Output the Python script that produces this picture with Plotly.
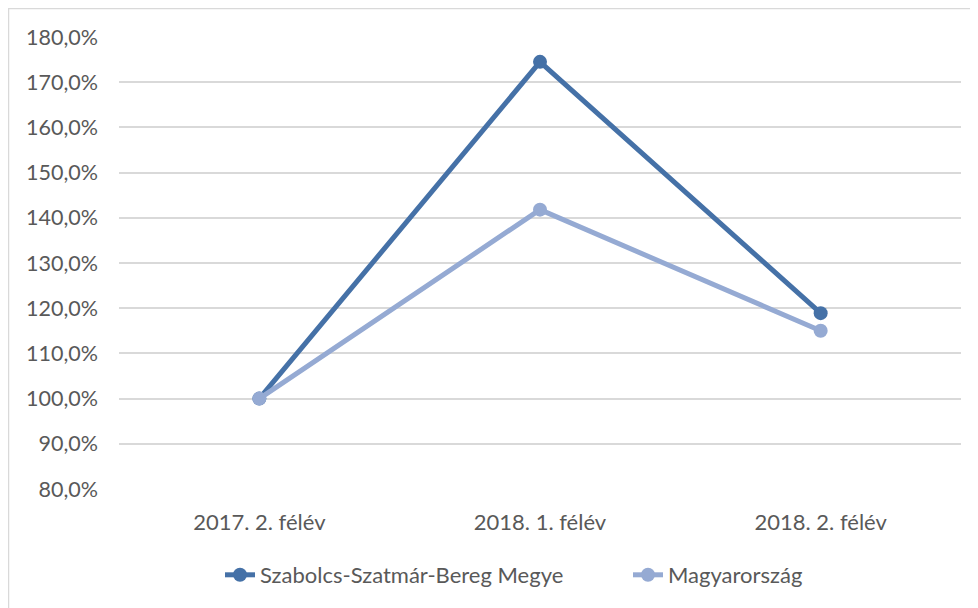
import plotly.graph_objects as go

categories = ["2017. 2. félév", "2018. 1. félév", "2018. 2. félév"]
szabolcs = [100.0, 174.5, 118.9]
magyarorszag = [100.0, 141.8, 115.0]
y_ticks = [80, 90, 100, 110, 120, 130, 140, 150, 160, 170, 180]
y_tick_labels = ["80,0%", "90,0%", "100,0%", "110,0%", "120,0%", "130,0%",
                 "140,0%", "150,0%", "160,0%", "170,0%", "180,0%"]

W, H = 970, 600
L, R, T, B = 111, 17, 29, 119
pw, ph = W - L - R, H - T - B
OFF = 8  # page offset of the figure

fig = go.Figure()
fig.add_trace(go.Scatter(x=categories, y=szabolcs, name="Szabolcs-Szatmár-Bereg Megye",
                         mode="lines+markers", legend="legend",
                         line=dict(color="#4571A7", width=5),
                         marker=dict(size=14, color="#4571A7")))
fig.add_trace(go.Scatter(x=categories, y=magyarorszag, name="Magyarország",
                         mode="lines+markers", legend="legend2",
                         line=dict(color="#95AAD3", width=5),
                         marker=dict(size=14, color="#95AAD3")))

leg_y = -(575 - OFF - T - ph) / ph
leg_common = dict(orientation="h", xanchor="left", y=leg_y, yanchor="middle",
                  font=dict(size=22, color="#595959"), bgcolor="rgba(0,0,0,0)")

fig.update_layout(
    width=W, height=H,
    margin=dict(l=L, r=R, t=T, b=B),
    paper_bgcolor="white", plot_bgcolor="white",
    font=dict(family="Lato, Calibri, sans-serif", size=22, color="#595959"),
    showlegend=True,
    legend=dict(x=(220 - OFF - L) / pw, **leg_common),
    legend2=dict(x=(628 - OFF - L) / pw, **leg_common),
    xaxis=dict(type="category", range=[-0.5, 2.5], showgrid=False, showline=False,
               zeroline=False, ticks="", ticklabelstandoff=18,
               tickfont=dict(size=22)),
    yaxis=dict(range=[80, 180], tickvals=y_ticks, ticktext=y_tick_labels,
               showgrid=True, gridcolor="#D9D9D9", gridwidth=1.5, zeroline=False,
               showline=False, ticks="", ticklabelstandoff=20,
               tickfont=dict(size=21.5)),
    shapes=[dict(type="rect", xref="paper", yref="paper",
                 x0=(0.5 - L) / pw, x1=1.1, y0=-0.4, y1=1 + (T - 0.5) / ph,
                 line=dict(color="#D9D9D9", width=1.5), fillcolor="rgba(0,0,0,0)",
                 layer="below")],
)
fig.write_html("out.html")
